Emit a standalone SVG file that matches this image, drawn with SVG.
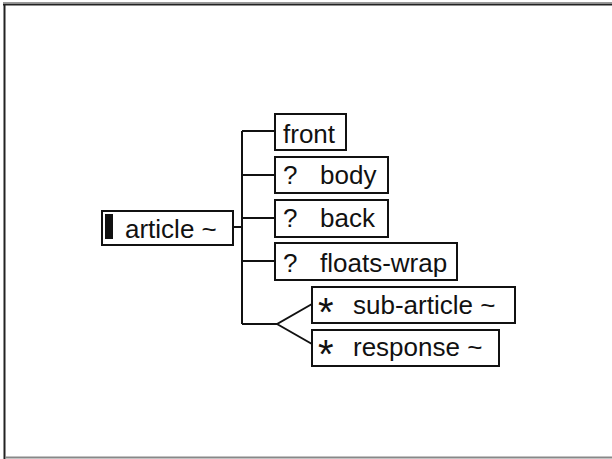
<svg xmlns="http://www.w3.org/2000/svg" width="612" height="459" viewBox="0 0 612 459">
<style>
.box{fill:#fff;stroke:#111;stroke-width:2}
.t{font-family:"Liberation Sans",Arial,sans-serif;font-size:26px;fill:#111}
.ln{fill:none;stroke:#111;stroke-width:2}
.ast{font-family:"Liberation Sans",Arial,sans-serif;font-size:40px;fill:#111}
</style>
<rect x="0" y="0" width="612" height="459" fill="#fff"/>
<g id="frame">
<line x1="3" y1="2.5" x2="612" y2="2.5" stroke="#999" stroke-width="1"/>
<line x1="3" y1="4.5" x2="612" y2="4.5" stroke="#222" stroke-width="2"/>
<line x1="4.5" y1="4" x2="4.5" y2="459" stroke="#222" stroke-width="2"/>
<line x1="5" y1="457.5" x2="612" y2="457.5" stroke="#888" stroke-width="2"/>
</g>
<g id="connectors">
<path class="ln" d="M233,227 H242 M242,131 V324 M242,131 H275 M242,175 H275 M242,218 H275 M242,261 H275 M242,324 H277 L312,304 M277,324 L312,344"/>
</g>
<g id="article">
<rect class="box" x="102" y="211" width="131" height="34"/>
<rect x="105" y="214" width="8" height="25" fill="#111"/>
<text class="t" x="125" y="238">article ~</text>
</g>
<g id="front">
<rect class="box" x="275" y="114" width="71" height="36"/>
<text class="t" x="283" y="143">front</text>
</g>
<g id="body">
<rect class="box" x="275" y="157" width="113" height="36"/>
<text class="t" x="283" y="184">?</text>
<text class="t" x="320" y="184">body</text>
</g>
<g id="back">
<rect class="box" x="275" y="200" width="113" height="37"/>
<text class="t" x="283" y="227">?</text>
<text class="t" x="320" y="227">back</text>
</g>
<g id="floats-wrap">
<rect class="box" x="275" y="243" width="182" height="37"/>
<text class="t" x="283" y="272">?</text>
<text class="t" x="320" y="272">floats-wrap</text>
</g>
<g id="sub-article">
<rect class="box" x="312" y="287" width="203" height="36"/>
<text class="ast" x="318" y="326">*</text>
<text class="t" x="353" y="314">sub-article ~</text>
</g>
<g id="response">
<rect class="box" x="312" y="330" width="187" height="36"/>
<text class="ast" x="318" y="368">*</text>
<text class="t" x="353" y="356">response ~</text>
</g>
</svg>
